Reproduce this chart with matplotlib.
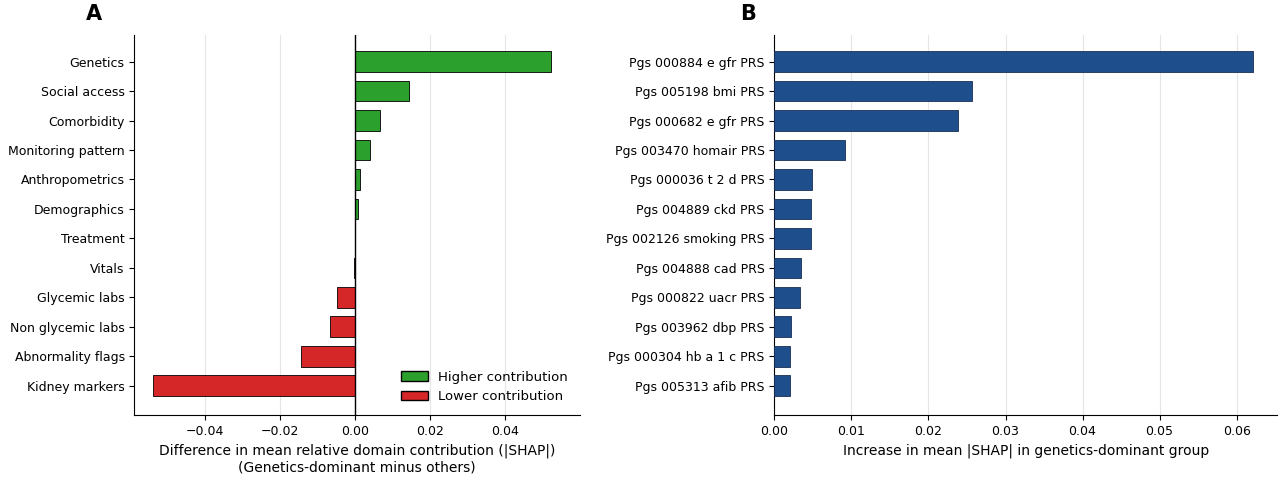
import matplotlib.pyplot as plt
from matplotlib.patches import Patch
import numpy as np

domains = ["Genetics", "Social access", "Comorbidity", "Monitoring pattern", "Anthropometrics",
           "Demographics", "Treatment", "Vitals", "Glycemic labs", "Non glycemic labs",
           "Abnormality flags", "Kidney markers"]
domain_diff = [0.0523, 0.0144, 0.0068, 0.0040, 0.0013, 0.0009, 0.0002, -0.0003,
               -0.0048, -0.0066, -0.0143, -0.0537]

prs = ["Pgs 000884 e gfr PRS", "Pgs 005198 bmi PRS", "Pgs 000682 e gfr PRS",
       "Pgs 003470 homair PRS", "Pgs 000036 t 2 d PRS", "Pgs 004889 ckd PRS",
       "Pgs 002126 smoking PRS", "Pgs 004888 cad PRS", "Pgs 000822 uacr PRS",
       "Pgs 003962 dbp PRS", "Pgs 000304 hb a 1 c PRS", "Pgs 005313 afib PRS"]
prs_increase = [0.0621, 0.0257, 0.0238, 0.0091, 0.0049, 0.0048, 0.0047,
                0.0034, 0.0033, 0.0021, 0.0020, 0.0020]

green = "#2ca02c"
red = "#d62728"
blue = "#1f4e8c"

fig = plt.figure(figsize=(12.8, 4.8), dpi=100)
ax1 = fig.add_axes([0.105, 0.135, 0.348, 0.792])
ax2 = fig.add_axes([0.605, 0.135, 0.393, 0.792])

y = np.arange(len(domains))
colors = [green if v > 0 else red for v in domain_diff]
ax1.barh(y, domain_diff, color=colors, edgecolor="black", linewidth=0.6, height=0.7, zorder=3)
ax1.axvline(0, color="black", linewidth=1, zorder=4)
ax1.set_yticks(y)
ax1.set_yticklabels(domains)
ax1.set_xlim(-0.0587, 0.06)
ax1.set_ylim(12.0, -0.9)
ax1.set_xticks([-0.04, -0.02, 0.0, 0.02, 0.04])
ax1.set_xlabel("Difference in mean relative domain contribution (|SHAP|)\n(Genetics-dominant minus others)", fontsize=10)
ax1.grid(axis="x", color="#e5e5e5", linewidth=0.8, zorder=0)
handles = [Patch(facecolor=green, edgecolor="black", label="Higher contribution"),
           Patch(facecolor=red, edgecolor="black", label="Lower contribution")]
ax1.legend(handles=handles, loc="lower right", frameon=False, fontsize=9.5)

y2 = np.arange(len(prs))
ax2.barh(y2, prs_increase, color=blue, edgecolor="#1a2f55", linewidth=0.6, height=0.7, zorder=3)
ax2.set_yticks(y2)
ax2.set_yticklabels(prs)
ax2.set_ylim(12.0, -0.9)
ax2.set_xlim(0, 0.0653)
ax2.set_xticks([0, 0.01, 0.02, 0.03, 0.04, 0.05, 0.06])
ax2.set_xticklabels(["0.00", "0.01", "0.02", "0.03", "0.04", "0.05", "0.06"])
ax2.set_xlabel("Increase in mean |SHAP| in genetics-dominant group", fontsize=10)
ax2.grid(axis="x", color="#e5e5e5", linewidth=0.8, zorder=0)

for ax in (ax1, ax2):
    ax.spines["top"].set_visible(False)
    ax.spines["right"].set_visible(False)
    ax.tick_params(labelsize=9)

fig.text(0.067, 0.97, "A", fontsize=15, fontweight="bold", va="center")
fig.text(0.578, 0.97, "B", fontsize=15, fontweight="bold", va="center")

fig.savefig("out.png", dpi=100)
